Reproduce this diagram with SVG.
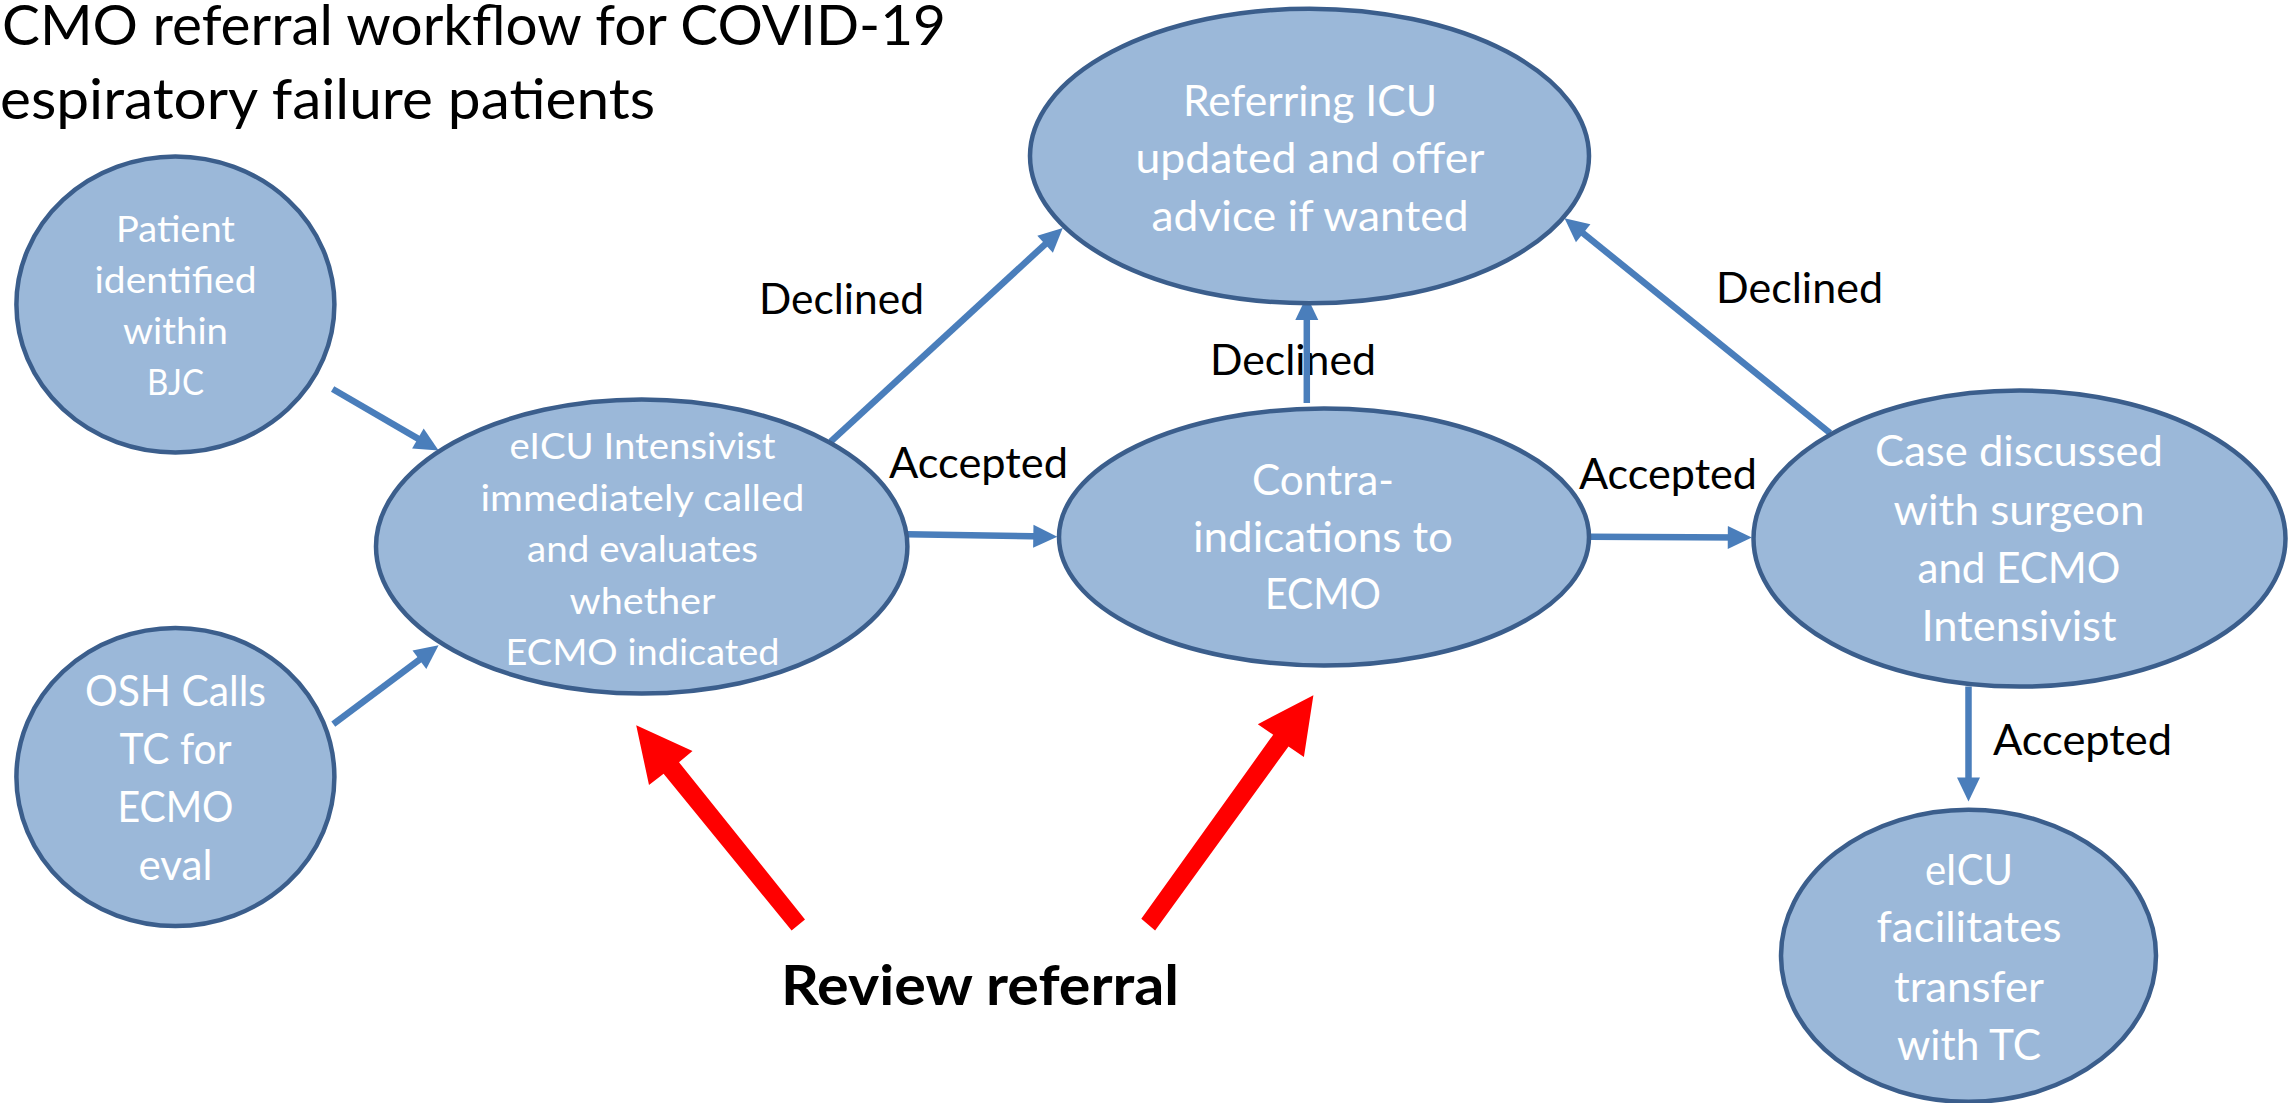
<svg xmlns="http://www.w3.org/2000/svg" width="2290" height="1103" viewBox="0 0 2290 1103">
<style>
.node ellipse{fill:#9BB8D9;stroke:#3B5E8C;stroke-width:4.5}
.nt{font-family:Lato,"Liberation Sans",sans-serif;fill:#FFFFFF;text-anchor:middle}
.s37{font-size:37px}
.s42{font-size:42px}
.lbl{font-family:Lato,"Liberation Sans",sans-serif;fill:#000000;font-size:42px}
.title{font-family:Lato,"Liberation Sans",sans-serif;fill:#000000;font-size:57px}
.conn line{stroke:#4A7EBB;stroke-width:6.5;marker-end:url(#ah)}
.red{fill:#FF0000}
</style>
<defs>
<marker id="ah" markerUnits="userSpaceOnUse" markerWidth="30" markerHeight="30" refX="0" refY="0" orient="auto" overflow="visible">
<path d="M-14,-11.5 L10,0 L-14,11.5 Z" fill="#4A7EBB"/>
</marker>
</defs>
<rect width="2290" height="1103" fill="#FFFFFF"/>

<g id="title">
<text class="title" x="2" y="45" textLength="944" lengthAdjust="spacingAndGlyphs">CMO referral workflow for COVID-19</text>
<text class="title" x="0" y="119" textLength="655" lengthAdjust="spacingAndGlyphs">espiratory failure patients</text>
</g>

<g id="labels">
<text class="lbl" x="759" y="314.3" textLength="165" lengthAdjust="spacingAndGlyphs">Declined</text>
<text class="lbl" x="889" y="478" textLength="179" lengthAdjust="spacingAndGlyphs">Accepted</text>
<text class="lbl" x="1210" y="374.9" textLength="166" lengthAdjust="spacingAndGlyphs">Declined</text>
<text class="lbl" x="1579" y="489" textLength="178" lengthAdjust="spacingAndGlyphs">Accepted</text>
<text class="lbl" x="1716" y="302.7" textLength="167" lengthAdjust="spacingAndGlyphs">Declined</text>
<text class="lbl" x="1993" y="754.5" textLength="179" lengthAdjust="spacingAndGlyphs">Accepted</text>
</g>

<g id="connectors" class="conn">
<line x1="332.6" y1="389" x2="430" y2="445.6"/>
<line x1="333.3" y1="724.2" x2="430.6" y2="651.3"/>
<line x1="830.7" y1="441.7" x2="1055.4" y2="234.8"/>
<line x1="907.4" y1="534.3" x2="1047.3" y2="536.6"/>
<line x1="1306.8" y1="403" x2="1306.8" y2="306"/>
<line x1="1589" y1="536.8" x2="1741.8" y2="537.5"/>
<line x1="1830" y1="433" x2="1572.3" y2="224.5"/>
<line x1="1968.5" y1="686.5" x2="1968.5" y2="791.6"/>
</g>

<g id="node-patient" class="node">
<ellipse cx="175.4" cy="304.5" rx="159" ry="148"/>
<text class="nt s37" x="175.5" y="242" textLength="119" lengthAdjust="spacingAndGlyphs">Patient</text>
<text class="nt s37" x="175.5" y="293" textLength="162" lengthAdjust="spacingAndGlyphs">identified</text>
<text class="nt s37" x="175.5" y="344" textLength="105" lengthAdjust="spacingAndGlyphs">within</text>
<text class="nt s37" x="175.5" y="395" textLength="57" lengthAdjust="spacingAndGlyphs">BJC</text>
</g>

<g id="node-osh" class="node">
<ellipse cx="175.4" cy="777" rx="159" ry="149"/>
<text class="nt s42" x="175.5" y="706" textLength="181" lengthAdjust="spacingAndGlyphs">OSH Calls</text>
<text class="nt s42" x="175.5" y="764" textLength="112" lengthAdjust="spacingAndGlyphs">TC for</text>
<text class="nt s42" x="175.5" y="822" textLength="116" lengthAdjust="spacingAndGlyphs">ECMO</text>
<text class="nt s42" x="175.5" y="880" textLength="74" lengthAdjust="spacingAndGlyphs">eval</text>
</g>

<g id="node-eicu-intensivist" class="node">
<ellipse cx="641.7" cy="546.5" rx="265.7" ry="147"/>
<text class="nt s37" x="642.5" y="459" textLength="266" lengthAdjust="spacingAndGlyphs">eICU Intensivist</text>
<text class="nt s37" x="642.5" y="510.5" textLength="324" lengthAdjust="spacingAndGlyphs">immediately called</text>
<text class="nt s37" x="642.5" y="562" textLength="231" lengthAdjust="spacingAndGlyphs">and evaluates</text>
<text class="nt s37" x="642.5" y="613.5" textLength="146" lengthAdjust="spacingAndGlyphs">whether</text>
<text class="nt s37" x="642.5" y="665" textLength="274" lengthAdjust="spacingAndGlyphs">ECMO indicated</text>
</g>

<g id="node-referring-icu" class="node">
<ellipse cx="1309.5" cy="156" rx="279.5" ry="147.3"/>
<text class="nt s42" x="1310" y="115.5" textLength="254" lengthAdjust="spacingAndGlyphs">Referring ICU</text>
<text class="nt s42" x="1310" y="172.5" textLength="349" lengthAdjust="spacingAndGlyphs">updated and offer</text>
<text class="nt s42" x="1310" y="230.5" textLength="317" lengthAdjust="spacingAndGlyphs">advice if wanted</text>
</g>

<g id="node-contra" class="node">
<ellipse cx="1324" cy="537" rx="265" ry="128.5"/>
<text class="nt s42" x="1323" y="494.5" textLength="142" lengthAdjust="spacingAndGlyphs">Contra-</text>
<text class="nt s42" x="1323" y="552" textLength="260" lengthAdjust="spacingAndGlyphs">indications to</text>
<text class="nt s42" x="1323" y="609" textLength="116" lengthAdjust="spacingAndGlyphs">ECMO</text>
</g>

<g id="node-case" class="node">
<ellipse cx="2019.5" cy="538.6" rx="266" ry="148"/>
<text class="nt s42" x="2019" y="466" textLength="288" lengthAdjust="spacingAndGlyphs">Case discussed</text>
<text class="nt s42" x="2019" y="524.5" textLength="251" lengthAdjust="spacingAndGlyphs">with surgeon</text>
<text class="nt s42" x="2019" y="583" textLength="203" lengthAdjust="spacingAndGlyphs">and ECMO</text>
<text class="nt s42" x="2019" y="641" textLength="195" lengthAdjust="spacingAndGlyphs">Intensivist</text>
</g>

<g id="node-eicu-transfer" class="node">
<ellipse cx="1968.5" cy="955.8" rx="187.5" ry="146"/>
<text class="nt s42" x="1969" y="885.4" textLength="88" lengthAdjust="spacingAndGlyphs">eICU</text>
<text class="nt s42" x="1969" y="942.4" textLength="185" lengthAdjust="spacingAndGlyphs">facilitates</text>
<text class="nt s42" x="1969" y="1001.5" textLength="150" lengthAdjust="spacingAndGlyphs">transfer</text>
<text class="nt s42" x="1969" y="1059.6" textLength="144" lengthAdjust="spacingAndGlyphs">with TC</text>
</g>

<g id="review-referral">
<polygon class="red" points="636.2,725.2 692.5,751 679,762.2 805,919.5 791.6,930.4 663.6,773.8 649,785"/>
<polygon class="red" points="1313.4,695.3 1303.9,756.9 1288.5,746.4 1155.1,930.4 1141.3,918.8 1273.2,734.7 1257.8,724.2"/>
<text x="781" y="1005" font-family="Lato,'Liberation Sans',sans-serif" font-weight="bold" font-size="56" fill="#000000" textLength="398" lengthAdjust="spacingAndGlyphs">Review referral</text>
</g>
</svg>
